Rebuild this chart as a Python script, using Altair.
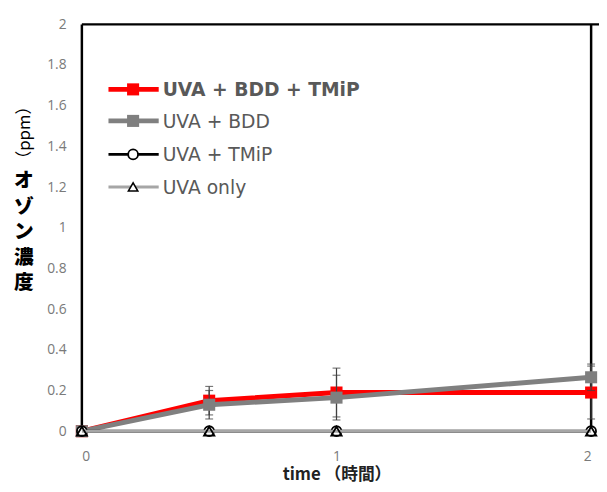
import altair as alt
import pandas as pd

# ---- data ----
time = [0, 0.5, 1, 2]
uva_bdd_tmip = [0, 0.15, 0.19, 0.19]
uva_bdd_tmip_err = [0, 0.07, 0.12, 0.13]
uva_bdd = [0, 0.13, 0.165, 0.265]
uva_bdd_err = [0, 0.07, 0.11, 0.065]
uva_tmip = [0, 0, 0, 0]
uva_only = [0, 0, 0, 0]

x_ticks = [0, 1, 2]
y_ticks = [0, 0.2, 0.4, 0.6, 0.8, 1, 1.2, 1.4, 1.6, 1.8, 2]

legend_labels = ["UVA + BDD + TMiP", "UVA + BDD", "UVA + TMiP", "UVA only"]
y_title_chars = ["オ", "ゾ", "ン", "濃", "度"]
y_title_unit = "（ppm）"
x_title = "time （時間）"

W, H = 517, 413
LABEL_FONT = "Open Sans"
LEGEND_FONT = "DejaVu Sans"
GREY_TXT = "#7a7a7a"

xs = alt.Scale(domain=[0, 2], nice=False, zero=False)
ys = alt.Scale(domain=[0, 2], nice=False)

x_axis = alt.Axis(values=x_ticks, domain=False, ticks=False, grid=False,
                  labelFont=LABEL_FONT, labelFontSize=14, labelColor=GREY_TXT,
                  labelPadding=19, title=x_title,
                  labelExpr="format(datum.value, '~g')",
                  titleFont="Noto Sans CJK JP", titleFontSize=17, titleFontWeight="bold",
                  titleColor="#222222", titlePadding=3)
y_axis = alt.Axis(values=y_ticks, domain=False, ticks=False, grid=False,
                  labelFont=LABEL_FONT, labelFontSize=14, labelColor=GREY_TXT,
                  labelPadding=16, title=None,
                  labelExpr="datum.value == 0 ? '0' : format(datum.value, '.1~f')")


def frame(vals, err=None):
    d = {"t": time, "v": vals}
    if err is not None:
        d["lo"] = [v - e for v, e in zip(vals, err)]
        d["hi"] = [v + e for v, e in zip(vals, err)]
    return pd.DataFrame(d)


X = alt.X("t:Q", scale=xs, axis=x_axis, title=x_title)
Y = alt.Y("v:Q", scale=ys, axis=y_axis, title=None)

one = pd.DataFrame({"a": [0]})

# frame rules
frame_left = alt.Chart(one).mark_rule(color="black", strokeWidth=2.5).encode(
    x=alt.value(0), y=alt.value(0), y2=alt.value(H))
frame_top = alt.Chart(one).mark_rule(color="black", strokeWidth=2.5).encode(
    x=alt.value(0), x2=alt.value(W + 8), y=alt.value(0))
frame_right = alt.Chart(one).mark_rule(color="black", strokeWidth=2.5).encode(
    x=alt.value(W), y=alt.value(0), y2=alt.value(H))


def errbars(vals, err, color):
    d = frame(vals, err)
    r = alt.Chart(d).mark_rule(color=color, strokeWidth=1.2).encode(
        x=X, y=alt.Y("lo:Q", scale=ys, axis=y_axis, title=None), y2="hi:Q")
    t1 = alt.Chart(d).mark_tick(color=color, orient="horizontal", size=8, thickness=1.2).encode(
        x=X, y=alt.Y("lo:Q", scale=ys, axis=y_axis, title=None))
    t2 = alt.Chart(d).mark_tick(color=color, orient="horizontal", size=8, thickness=1.2).encode(
        x=X, y=alt.Y("hi:Q", scale=ys, axis=y_axis, title=None))
    return [r, t1, t2]


# series 1: red
d1 = frame(uva_bdd_tmip)
s1_line = alt.Chart(d1).mark_line(color="#ff0000", strokeWidth=5).encode(x=X, y=Y)
s1_pt = alt.Chart(d1).mark_point(shape="square", filled=True, color="#ff0000", size=150, opacity=1).encode(x=X, y=Y)

# series 2: grey
d2 = frame(uva_bdd)
s2_line = alt.Chart(d2).mark_line(color="#808080", strokeWidth=5).encode(x=X, y=Y)
s2_pt = alt.Chart(d2).mark_point(shape="square", filled=True, color="#7f7f7f", size=150, opacity=1).encode(x=X, y=Y)

# series 3: black circle
d3 = frame(uva_tmip)
s3_line = alt.Chart(d3).mark_line(color="black", strokeWidth=3).encode(x=X, y=Y)
s3_pt = alt.Chart(d3).mark_point(shape="circle", filled=False, color="black", fill="white",
                                 size=100, strokeWidth=1.8, opacity=1).encode(x=X, y=Y)

# series 4: light grey triangle
d4 = frame(uva_only)
s4_line = alt.Chart(d4).mark_line(color="#a6a6a6", strokeWidth=3).encode(x=X, y=Y)
s4_pt = alt.Chart(d4).mark_point(shape="triangle-up", filled=False, color="black",
                                 size=110, strokeWidth=1.8, opacity=1).encode(x=X, y=Y)

# legend
leg_y = [66, 98, 132, 165]
leg_line_col = ["#ff0000", "#808080", "black", "#a6a6a6"]
leg_line_w = [5, 5, 3, 3]
legend_layers = []
for i, lab in enumerate(legend_labels):
    legend_layers.append(alt.Chart(one).mark_rule(color=leg_line_col[i], strokeWidth=leg_line_w[i]).encode(
        x=alt.value(27), x2=alt.value(78), y=alt.value(leg_y[i])))
legend_layers.append(alt.Chart(one).mark_point(shape="square", filled=True, color="#ff0000", size=150, opacity=1).encode(
    x=alt.value(52), y=alt.value(leg_y[0])))
legend_layers.append(alt.Chart(one).mark_point(shape="square", filled=True, color="#7f7f7f", size=150, opacity=1).encode(
    x=alt.value(52), y=alt.value(leg_y[1])))
legend_layers.append(alt.Chart(one).mark_point(shape="circle", filled=False, color="black", fill="white",
                                               size=100, strokeWidth=1.8, opacity=1).encode(
    x=alt.value(52), y=alt.value(leg_y[2])))
legend_layers.append(alt.Chart(one).mark_point(shape="triangle-up", filled=False, color="black", fill="white",
                                               size=90, strokeWidth=1.6, opacity=1).encode(
    x=alt.value(52), y=alt.value(leg_y[3])))
for i, lab in enumerate(legend_labels):
    legend_layers.append(alt.Chart(pd.DataFrame({"lab": [lab]})).mark_text(
        align="left", baseline="middle", font=LEGEND_FONT, fontSize=19,
        fontWeight="bold" if i == 0 else "normal", color="#595959").encode(
        x=alt.value(82), y=alt.value(leg_y[i] + 1), text="lab:N"))

# y-axis title (manual, vertical stacked)
ytitle_layers = []
for i, ch in enumerate(y_title_chars):
    ytitle_layers.append(alt.Chart(pd.DataFrame({"s": [ch]})).mark_text(
        align="center", baseline="middle", font="Noto Sans CJK JP", fontSize=20, fontWeight=900,
        color="black").encode(x=alt.value(-59), y=alt.value(159 + i * 26), text="s:N"))
ytitle_layers.append(alt.Chart(pd.DataFrame({"s": [y_title_unit]})).mark_text(
    align="center", baseline="middle", font="Noto Sans CJK JP", fontSize=17,
    color="black", angle=270).encode(
    x=alt.value(-58), y=alt.value(110), text="s:N"))

layers = [frame_left, frame_top, frame_right]
layers += errbars(uva_bdd_tmip, uva_bdd_tmip_err, "#404040")
layers += [s1_line, s1_pt]
layers += errbars(uva_bdd, uva_bdd_err, "#404040")
layers += [s2_line, s2_pt, s3_line, s3_pt, s4_line, s4_pt]
layers += legend_layers + ytitle_layers

chart = alt.layer(*layers).properties(
    width=W, height=H,
    autosize=alt.AutoSizeParams(type="none"),
    padding={"left": 75, "top": 13, "right": 8, "bottom": 50},
).configure_view(stroke=None)

chart.save("out.html", embed_options={"renderer": "svg", "actions": False})
